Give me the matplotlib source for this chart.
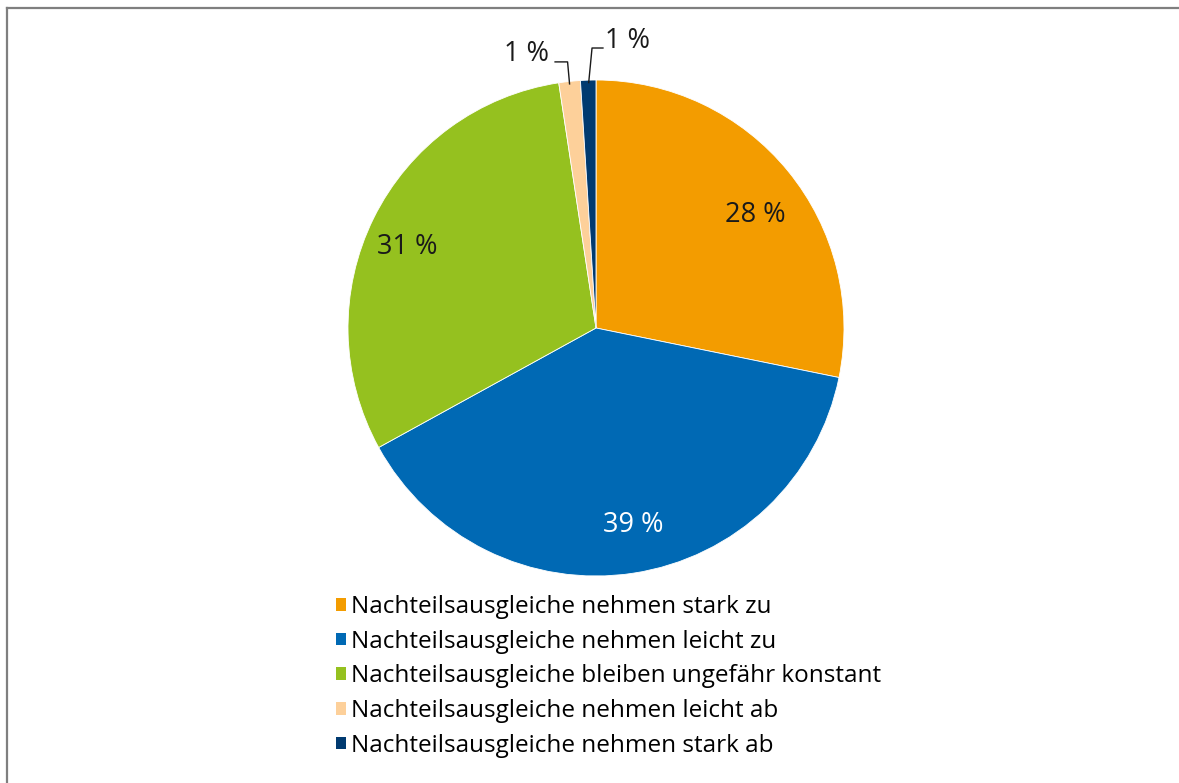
import numpy as np
import matplotlib.pyplot as plt
from matplotlib.patches import Patch
from matplotlib.lines import Line2D

plt.rcParams['font.family'] = ['Open Sans', 'DejaVu Sans']

# data
labels = ["Nachteilsausgleiche nehmen stark zu",
          "Nachteilsausgleiche nehmen leicht zu",
          "Nachteilsausgleiche bleiben ungefähr konstant",
          "Nachteilsausgleiche nehmen leicht ab",
          "Nachteilsausgleiche nehmen stark ab"]
values = [28.2, 38.8, 30.6, 1.4, 1.0]
shown = ["28 %", "39 %", "31 %", "1 %", "1 %"]
colors = ["#F39C00", "#0069B4", "#95C11F", "#FDD09A", "#003A70"]

W, H = 1179, 783
fig = plt.figure(figsize=(W / 100, H / 100), dpi=100)

# pie axes: centre (596, 328) px, radius 248 px
cx, cy, r = 596, 328, 248
ax = fig.add_axes([(cx - r) / W, (H - cy - r) / H, 2 * r / W, 2 * r / H])
wedges, _ = ax.pie(values, colors=colors, startangle=90, counterclock=False,
                   radius=1, wedgeprops=dict(edgecolor="white", linewidth=0.6))
ax.set_xlim(-1, 1)
ax.set_ylim(-1, 1)
ax.set_aspect("auto")
ax.axis("off")

fs = 17.5
fs_pie = 19.5
dark = "#1a1a1a"
# inside labels: (radius, angle shift from wedge middle, colour)
inner = {0: (0.787, -3.8, dark), 1: (0.808, 2.2, "white"), 2: (0.827, 2.9, dark)}
for i, (rad, shift, col) in inner.items():
    w = wedges[i]
    mid = np.deg2rad((w.theta1 + w.theta2) / 2 + shift)
    ax.text(rad * np.cos(mid), rad * np.sin(mid), shown[i], ha="center", va="center",
            fontsize=fs_pie, color=col)

# outside labels with leader lines
w = wedges[3]
mid = np.deg2rad((w.theta1 + w.theta2) / 2)
px, py = np.cos(mid), np.sin(mid)
ax.plot([px, px - 0.008, -0.165], [py - 0.01, 1.073, 1.073], color=dark, lw=1, clip_on=False)
ax.text(-0.19, 1.105, shown[3], ha="right", va="center", fontsize=fs_pie, color=dark)

w = wedges[4]
mid = np.deg2rad((w.theta1 + w.theta2) / 2)
px, py = np.cos(mid), np.sin(mid)
ax.plot([px + 0.002, -0.016, 0.028], [py - 0.01, 1.129, 1.129], color=dark, lw=1, clip_on=False)
ax.text(0.036, 1.157, shown[4], ha="left", va="center", fontsize=fs_pie, color=dark)

# legend
handles = [Patch(facecolor=c, edgecolor="none") for c in colors]
fig.legend(handles, labels, loc="upper left", bbox_to_anchor=(336 / W, 1 - 595 / H),
           frameon=False, fontsize=fs, handlelength=0.42, handleheight=0.42,
           handletextpad=0.18, labelspacing=0.44, borderpad=0, borderaxespad=0)

# frame lines (top and left)
fig.add_artist(Line2D([7.5 / W, 1], [1 - 7.5 / H, 1 - 7.5 / H], color="#7f7f7f", lw=1.6))
fig.add_artist(Line2D([7.5 / W, 7.5 / W], [0, 1 - 7.5 / H], color="#7f7f7f", lw=1.6))

fig.savefig("out.png", dpi=100)
